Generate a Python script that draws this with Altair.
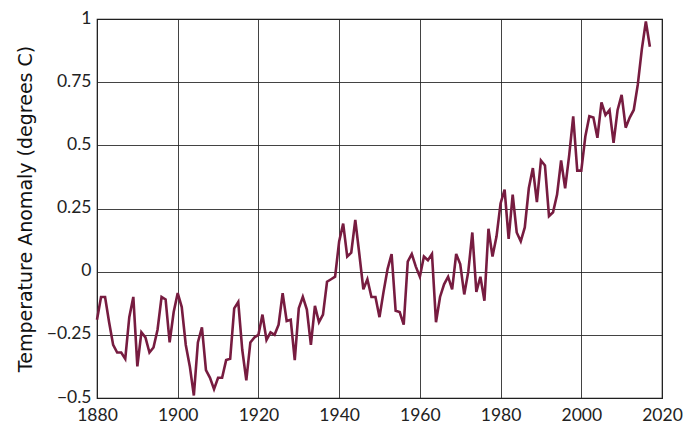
import altair as alt
import pandas as pd

years = list(range(1880, 2018))
anomaly = [
    -0.19, -0.10, -0.10, -0.20, -0.29, -0.32, -0.32, -0.345, -0.18, -0.10,
    -0.375, -0.24, -0.26, -0.32, -0.30, -0.23, -0.10, -0.11, -0.28, -0.16,
    -0.085, -0.14, -0.29, -0.375, -0.49, -0.28, -0.22, -0.39, -0.42, -0.465,
    -0.42, -0.42, -0.35, -0.345, -0.145, -0.12, -0.31, -0.43, -0.28, -0.26,
    -0.25, -0.17, -0.27, -0.24, -0.25, -0.21, -0.085, -0.195, -0.19, -0.35,
    -0.145, -0.10, -0.15, -0.29, -0.135, -0.20, -0.17, -0.04, -0.03, -0.02,
    0.12, 0.19, 0.06, 0.075, 0.205, 0.07, -0.07, -0.03, -0.10, -0.10,
    -0.18, -0.08, 0.01, 0.07, -0.155, -0.16, -0.21, 0.04, 0.07, 0.02,
    -0.02, 0.06, 0.045, 0.07, -0.20, -0.10, -0.05, -0.02, -0.07, 0.07,
    0.03, -0.09, 0.00, 0.155, -0.08, -0.02, -0.115, 0.17, 0.06, 0.14,
    0.27, 0.325, 0.13, 0.305, 0.155, 0.12, 0.175, 0.33, 0.41, 0.275,
    0.44, 0.42, 0.22, 0.235, 0.305, 0.44, 0.33, 0.46, 0.615, 0.40,
    0.40, 0.535, 0.615, 0.61, 0.53, 0.67, 0.62, 0.64, 0.51, 0.64,
    0.70, 0.57, 0.61, 0.64, 0.74, 0.88, 0.99, 0.89,
]
x_ticks = [1880, 1900, 1920, 1940, 1960, 1980, 2000, 2020]
y_ticks = [-0.5, -0.25, 0, 0.25, 0.5, 0.75, 1]

df = pd.DataFrame({"year": years, "anomaly": anomaly})

LABEL_FONT = "Lato"
TITLE_FONT = "DejaVu Sans"

chart = (
    alt.Chart(df)
    .mark_line(color="#771c40", strokeWidth=2.6)
    .encode(
        x=alt.X(
            "year:Q",
            scale=alt.Scale(domain=[1880, 2020], nice=False, zero=False),
            axis=alt.Axis(values=x_ticks, format="d", title=None, labelFlush=False),
        ),
        y=alt.Y(
            "anomaly:Q",
            scale=alt.Scale(domain=[-0.5, 1], nice=False, zero=False),
            axis=alt.Axis(
                values=y_ticks,
                title="Temperature Anomaly (degrees C)",
                labelFlush=False,
                labelOffset=-1,
                labelExpr="replace(format(datum.value, ''), '-', '\u2212')",
            ),
        ),
    )
    .properties(
        width=565,
        height=379,
        padding={"left": 89, "top": 11, "right": 25, "bottom": 30},
        autosize=alt.AutoSizeParams(type="none"),
    )
    .configure_view(stroke="#111111", strokeWidth=1.2)
    .configure_axis(
        grid=True,
        gridColor="#222222",
        gridWidth=1,
        gridOpacity=0.85,
        domain=False,
        ticks=False,
        labelFont=LABEL_FONT,
        labelFontSize=17.5,
        labelColor="#222222",
        labelPadding=6,
        titleFont=TITLE_FONT,
        titleFontSize=19,
        titleFontWeight="normal",
        titleColor="#111111",
    )
    .configure_axisY(titlePadding=11)
    .configure_axisX(labelPadding=8)
)

chart.save("out.html", embed_options={"renderer": "svg", "actions": False})
